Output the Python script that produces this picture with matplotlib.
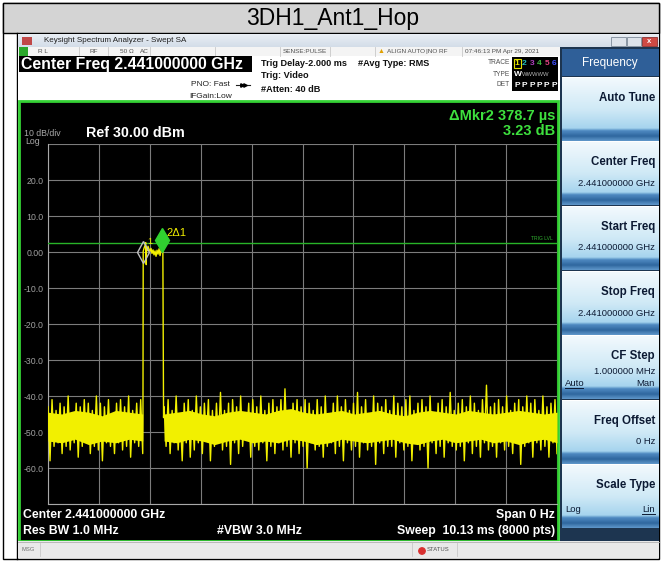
import numpy as np
import matplotlib.pyplot as plt
from matplotlib.patches import Rectangle, Circle
from matplotlib.colors import LinearSegmentedColormap

plt.rcParams['font.family'] = ['Liberation Sans', 'DejaVu Sans']

# ---- trace data (zero span, time in ms, level in dBm) ----
sweep_ms = 10.13
noise_left = [-43, -58, -41, -54, -44, -53, -42, -56, -43, -54, -40, -55, -45, -53, -42, -57,
              -43, -54, -41, -53, -42, -56, -44, -54, -40, -55, -42, -58, -43, -53, -41, -54,
              -45, -56, -42, -53, -41, -55, -43, -54, -40, -57, -44, -53, -42, -54, -41, -56]
noise_right = [
    -43, -54, -41, -56, -44, -53, -40, -55, -45, -58, -42, -53, -41, -57,
    -44, -55, -40, -53, -43, -56, -42, -52, -41, -58, -44, -54, -42, -53,
    -39, -55, -44, -54, -42, -59, -41, -53, -43, -56, -40, -54, -45, -52,
    -42, -57, -41, -54, -43, -55, -40, -53, -44, -58, -42, -54, -41, -56,
    -43, -53, -41, -55, -38, -54, -44, -57, -42, -53, -41, -56, -43, -54,
    -41, -60, -42, -53, -44, -55, -41, -54, -43, -57, -40, -54, -45, -53,
    -42, -56, -40, -54, -43, -58, -41, -53, -44, -55, -42, -54, -39, -57,
    -43, -53, -41, -55, -45, -54, -40, -59, -42, -53, -43, -56, -41, -54,
    -44, -54, -40, -57, -42, -53, -43, -55, -41, -54, -40, -58, -44, -53,
    -42, -55, -41, -54, -43, -60, -40, -53, -45, -56, -42, -54, -41, -57,
    -43, -53, -39, -54, -44, -55, -42, -54, -41, -58, -43, -53, -40, -56,
    -42, -54, -44, -57, -41, -53, -37, -55, -43, -54, -42, -57, -41, -53,
    -43, -55, -40, -54, -44, -56, -42, -53, -41, -59, -43, -54, -40, -53,
    -42, -57, -41, -53, -44, -55, -40, -54, -43, -57, -42, -53, -41, -56]
# dense part of the noise band
core_top_left = [-44.5, -45, -44, -44.5, -45.5, -44, -44.5, -45]
core_bot_left = [-52.5, -53, -52, -53.5, -52.5, -53, -52, -52.5]
core_top_right = [-45, -44.5, -44, -45, -45.5, -44.5, -44, -44.5, -45, -44, -43.5, -44.5, -45, -44.5,
                  -44, -45, -44.5, -44, -45, -45.5, -44.5, -44, -44.5, -45, -44, -44.5, -45, -44.5,
                  -44, -44.5, -45, -44.5]
core_bot_right = [-52.5, -53, -52, -52.5, -53.5, -52.5, -52, -53, -52.5, -53, -52, -52.5, -53.5, -53,
                  -52, -52.5, -53, -52.5, -52, -53, -53.5, -52.5, -52, -53, -52.5, -52, -53, -52.5,
                  -53.5, -52.5, -52, -53]
left_span = (0.0, 1.885)
right_span = (2.31, sweep_ms)
burst_t = [1.89, 1.895, 1.91, 1.93, 1.945, 1.955, 1.96, 1.975, 1.99, 2.01, 2.03, 2.05, 2.07,
           2.09, 2.11, 2.13, 2.15, 2.17, 2.19, 2.21, 2.23, 2.25, 2.27, 2.285, 2.30]
burst_v = [-45, 0.2, 1.0, 1.8, 2.6, -3.5, 1.2, 0.4, 1.6, 0.8, 0.2, 1.0, -0.4, 0.6, -0.8, 0.3,
           -1.2, 0.5, -0.6, 0.9, -1.0, 0.4, 1.5, 3.2, -46]
trig_level = 2.5
mkr1 = (1.89, 0.0)
mkr2 = (2.269, 3.2)
y_ticks = [-70, -60, -50, -40, -30, -20, -10, 0, 10, 20, 30]
y_labels = ['', '-60.0', '-50.0', '-40.0', '-30.0', '-20.0', '-10.0', '0.00', '10.0', '20.0', '']

btn_titles = ['Auto Tune', 'Center Freq', 'Start Freq', 'Stop Freq', 'CF Step', 'Freq Offset', 'Scale Type']
btn_values = ['', '2.441000000 GHz', '2.441000000 GHz', '2.441000000 GHz', '1.000000 MHz', '0 Hz', '']
btn_tops = [78, 142, 207, 272, 336, 401, 465]

W, H = 661, 562
fig = plt.figure(figsize=(W / 100, H / 100), dpi=100)
bg = fig.add_axes([0, 0, 1, 1])
bg.axis('off')


def box(x0, y0, x1, y1, fc, ec='none', lw=0, z=1):
    bg.add_patch(Rectangle((x0, y0), x1 - x0, y1 - y0, facecolor=fc, edgecolor=ec, linewidth=lw, zorder=z))


def txt(x, y, s, size, color='black', bold=False, ha='left', **kw):
    bg.text(x, y, s, fontsize=size, color=color, fontweight='bold' if bold else 'normal',
            ha=ha, va='center', zorder=5, **kw)


def grad(x0, y0, x1, y1, cmap):
    bg.imshow(np.linspace(0, 1, 80)[:, None], extent=(x0, x1, y1, y0), cmap=cmap,
              aspect='auto', zorder=2, interpolation='bilinear')


# page / table
box(3, 3, 659, 559, 'white', 'black', 1, z=0)
box(3, 3, 659, 33, '#d4d4d4', 'black', 1)
txt(333, 18, '3DH1_Ant1_Hop', 16.5, ha='center')
bg.plot([17, 17], [33, 559], color='black', lw=1, zorder=1)

# window title bar
title_cm = LinearSegmentedColormap.from_list('tb', ['#e9eef4', '#d3dde8'])
grad(18, 34, 659, 47, title_cm)
box(22, 37, 32, 45, '#c04848', z=3)
txt(44, 41, 'Keysight Spectrum Analyzer - Swept SA', 5.8, '#202020')
box(611, 37, 626, 46, '#dde3ea', '#7d8a98', 0.6, z=3)
box(627, 37, 641, 46, '#dde3ea', '#7d8a98', 0.6, z=3)
box(642, 37, 657, 46, '#cf4a44', '#8a3030', 0.6, z=3)
txt(649.5, 41.5, 'x', 5.5, 'white', True, ha='center')

# status row
box(18, 47, 561, 56, '#f4f4f4', z=1)
box(19, 47, 28, 56, '#2aa82a', z=2)
for sx in [79, 108, 150, 215, 280, 330, 375, 462]:
    bg.plot([sx, sx], [47, 56], color='#c8c8c8', lw=0.6, zorder=2)
for sx, s in [(38, 'R L'), (90, 'RF'), (120, '50 Ω'), (140, 'AC'), (283, 'SENSE:PULSE'),
              (387, 'ALIGN AUTO'), (426, '|NO RF'), (465, '07:46:13 PM Apr 29, 2021')]:
    txt(sx, 51.5, s, 4.6, '#505050')
bg.text(381, 51.5, '▲', fontsize=5, color='#e0a000', ha='center', va='center', zorder=5)

# header info
box(18, 56, 561, 101, 'white', z=1)
box(19, 56, 252, 72, 'black', z=2)
txt(21, 64, 'Center Freq 2.441000000 GHz', 11.4, 'white', True)
txt(230, 85, 'PNO: Fast', 6, '#202020', ha='right')
bg.plot([236, 250], [85, 85], color='#202020', lw=0.8, zorder=5)
bg.plot([241.5, 244.5], [85, 85], 'k>', ms=2.5, zorder=5)
txt(232, 96, 'IFGain:Low', 6, '#202020', ha='right')
txt(261, 63, 'Trig Delay-2.000 ms', 6.6, '#101010', True)
txt(261, 76, 'Trig: Video', 6.6, '#101010', True)
txt(261, 90, '#Atten: 40 dB', 6.6, '#101010', True)
txt(358, 63, '#Avg Type: RMS', 6.6, '#101010', True)
txt(510, 63, 'TRACE', 4.8, '#505050', ha='right')
txt(510, 74, 'TYPE', 4.8, '#505050', ha='right')
txt(510, 85, 'DET', 4.8, '#505050', ha='right')
box(512, 57, 558, 91, 'black', z=2)
box(513.5, 58.5, 520.5, 68, 'none', '#e0e000', 0.8, z=3)
for i, c in enumerate(['#e8e800', '#20c0c0', '#b040c0', '#40c040', '#e04080', '#4050ff']):
    txt(517 + i * 7.4, 63.5, str(i + 1), 6, c, True, ha='center')
txt(514, 74.5, 'W', 6, 'white', True)
txt(522, 74.5, 'WWWWW', 4.2, '#b0b0b0')
for i in range(6):
    txt(517 + i * 7.4, 85.5, 'P', 6, 'white', True, ha='center')

# graph panel
box(19, 101, 558, 541, 'black', '#34d234', 2, z=1)
txt(24, 133, '10 dB/div', 6.3, '#a8a8a8')
txt(25, 142, 'Log', 6.3, '#a8a8a8')
txt(86, 133, 'Ref 30.00 dBm', 10.3, 'white', True)
txt(555, 116, 'ΔMkr2 378.7 µs', 10.5, '#3ee03e', True, ha='right')
txt(555, 131, '3.23 dB', 10.5, '#3ee03e', True, ha='right')
txt(553, 238, 'TRIG LVL', 3.6, '#30b030', ha='right')
txt(23, 515, 'Center 2.441000000 GHz', 8.8, 'white', True)
txt(23, 531, 'Res BW 1.0 MHz', 8.8, 'white', True)
txt(217, 531, '#VBW 3.0 MHz', 8.8, 'white', True)
txt(555, 515, 'Span 0 Hz', 8.8, 'white', True, ha='right')
txt(555, 531, 'Sweep  10.13 ms (8000 pts)', 8.8, 'white', True, ha='right')

# bottom status bar
box(18, 541, 659, 558, '#e9e9e9', z=1)
bg.plot([18, 659], [541.5, 541.5], color='#b0b0b0', lw=0.6, zorder=2)
bg.plot([40, 40], [543, 556], color='#c8c8c8', lw=0.6, zorder=2)
bg.plot([412, 412], [543, 556], color='#c8c8c8', lw=0.6, zorder=2)
bg.plot([457, 457], [543, 556], color='#c8c8c8', lw=0.6, zorder=2)
txt(22, 549.5, 'MSG', 4.2, '#707070')
bg.add_patch(Circle((422, 551), 3.2, color='#d83030', zorder=4))
txt(427, 549.5, 'STATUS', 4.2, '#505050')

# softkey panel
box(560, 47, 659, 541, '#1d3550', z=1)
box(562, 49, 659, 76, '#2f5f98', z=2)
txt(610, 63, 'Frequency', 8.5, 'white', ha='center')
btn_cm = LinearSegmentedColormap.from_list(
    'btn', [(0, '#f2f9fd'), (0.5, '#cfe9f6'), (0.8, '#a6d4ee'), (0.84, '#4f8ac2'),
            (0.93, '#2f679f'), (1, '#5d95c8')])
for top, title, value in zip(btn_tops, btn_titles, btn_values):
    box(562, top - 1, 659, top, 'white', z=2)
    grad(562, top, 659, top + 63, btn_cm)
    txt(655, top + 20, title, 8.3, '#0c1a33', True, ha='right')
    if value:
        vy = top + 36 if title == 'CF Step' else top + 41
        txt(655, vy, value, 6.8, '#0c1a33', ha='right')
txt(565, 383, 'Auto', 6.8, '#0c1a33')
bg.plot([565, 583], [388, 388], color='#0c1a33', lw=0.7, zorder=5)
txt(655, 383, 'Man', 6.8, '#0c1a33', ha='right')
txt(565, 509, 'Log', 6.8, '#0c1a33')
txt(655, 509, 'Lin', 6.8, '#0c1a33', ha='right')
bg.plot([642, 655], [514, 514], color='#0c1a33', lw=0.7, zorder=5)

bg.set_xlim(0, W)
bg.set_ylim(H, 0)

# ---- trace axes ----
ax = fig.add_axes([48 / W, (H - 504) / H, (557 - 48) / W, (504 - 144) / H])
ax.patch.set_alpha(0)
ax.set_xlim(0, sweep_ms)
ax.set_ylim(-70, 30)
ax.set_xticks(np.linspace(0, sweep_ms, 11))
ax.set_yticks(y_ticks)
ax.set_yticklabels(y_labels)
ax.set_xticklabels([])
ax.tick_params(length=0, labelsize=6.3, labelcolor='#a0a0a0', pad=3)
ax.grid(True, color='#7c7c7c', lw=0.8)
for side in ['top', 'right']:
    ax.spines[side].set_visible(False)
for side in ['left', 'bottom']:
    ax.spines[side].set_color('#a8a8a8')

yellow = '#f2f000'
t_left = np.linspace(left_span[0], left_span[1], len(noise_left))
t_right = np.linspace(right_span[0], right_span[1], len(noise_right))
t_all = np.concatenate([t_left, burst_t, t_right])
v_all = np.concatenate([noise_left, burst_v, noise_right])
ct_left = np.linspace(left_span[0], left_span[1], len(core_top_left))
ct_right = np.linspace(right_span[0], right_span[1], len(core_top_right))
ax.fill_between(ct_left, core_bot_left, core_top_left, color=yellow, lw=0, zorder=3)
ax.fill_between(ct_right, core_bot_right, core_top_right, color=yellow, lw=0, zorder=3)
ax.plot(t_all, v_all, color=yellow, lw=1.0, zorder=4)
ax.axhline(trig_level, color='#28b428', lw=1, zorder=3)
ax.plot(*mkr1, marker='d', ms=11, mfc='none', mec='#c0c0c0', mew=1, zorder=5)
ax.plot(*mkr2, marker='d', ms=12, color='#30d030', zorder=5)
ax.text(1.97, 3.0, '1', color=yellow, fontsize=6.5, ha='left', va='center', zorder=6)
ax.text(2.36, 5.4, '2Δ1', color=yellow, fontsize=8, ha='left', va='center', zorder=6)

fig.savefig('out.png', dpi=100)
